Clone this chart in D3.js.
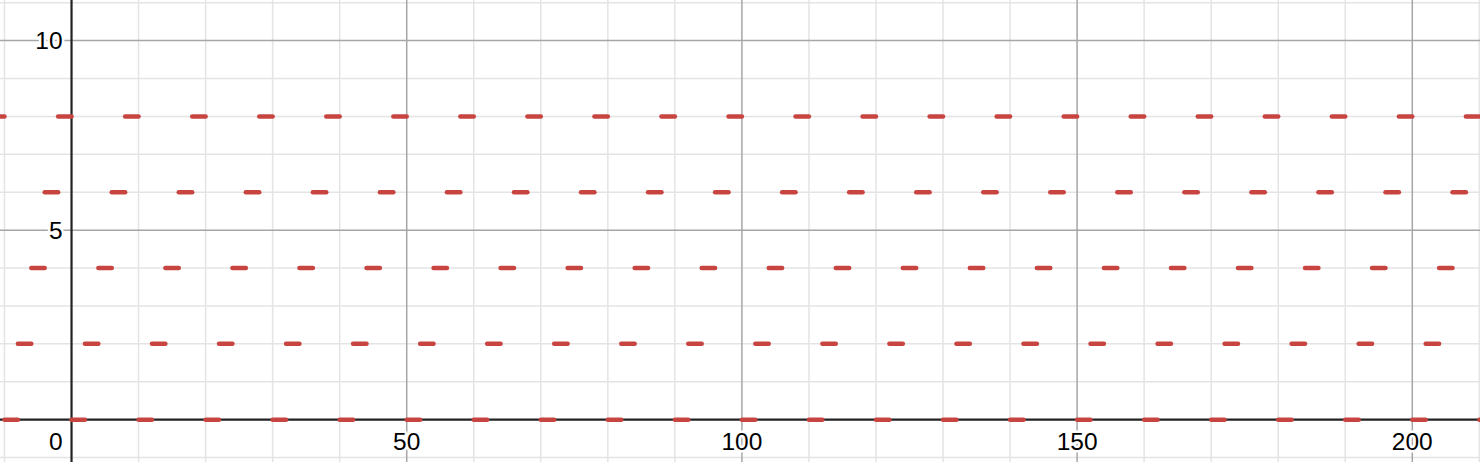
<!DOCTYPE html>
<html>
<head>
<meta charset="utf-8">
<script src="https://cdn.jsdelivr.net/npm/d3@7/dist/d3.min.js"></script>
<style>
html,body{margin:0;padding:0;background:#fff;}
svg{display:block;}
</style>
</head>
<body>
<svg id="chart" width="1480" height="462"></svg>
<script>
// ---- data ----
const xDomain = [-10.67, 210.1];
const yDomain = [-1.116, 11.07];

const xMajorTicks = [0, 50, 100, 150, 200];
const xMinorTicks = [-10, 10, 20, 30, 40, 60, 70, 80, 90, 110, 120, 130, 140, 160, 170, 180, 190, 210];
const yMajorTicks = [0, 5, 10];
const yMinorTicks = [-1, 1, 2, 3, 4, 6, 7, 8, 9, 11];

const xTickLabels = ["0", "50", "100", "150", "200"];
const yTickLabels = ["5", "10"];
const yLabelValues = [5, 10];

const rowLevels = [0, 2, 4, 6, 8];
const dashLength = 2;
const row0Starts = [-10, 0, 10, 20, 30, 40, 50, 60, 70, 80, 90, 100, 110, 120, 130, 140, 150, 160, 170, 180, 190, 200, 210];
const row2Starts = [-8, 2, 12, 22, 32, 42, 52, 62, 72, 82, 92, 102, 112, 122, 132, 142, 152, 162, 172, 182, 192, 202];
const row4Starts = [-6, 4, 14, 24, 34, 44, 54, 64, 74, 84, 94, 104, 114, 124, 134, 144, 154, 164, 174, 184, 194, 204];
const row6Starts = [-4, 6, 16, 26, 36, 46, 56, 66, 76, 86, 96, 106, 116, 126, 136, 146, 156, 166, 176, 186, 196, 206];
const row8Starts = [-12, -2, 8, 18, 28, 38, 48, 58, 68, 78, 88, 98, 108, 118, 128, 138, 148, 158, 168, 178, 188, 198, 208];
const rowStarts = [row0Starts, row2Starts, row4Starts, row6Starts, row8Starts];

// ---- drawing ----
const W = 1480, H = 462;
const svg = d3.select("#chart");
const x = d3.scaleLinear().domain(xDomain).range([0, W]);
const y = d3.scaleLinear().domain(yDomain).range([H, 0]);

const grid = svg.append("g");
grid.selectAll(".xmin").data(xMinorTicks).join("line")
  .attr("x1", d => x(d)).attr("x2", d => x(d)).attr("y1", 0).attr("y2", H)
  .attr("stroke", "#e4e4e4").attr("stroke-width", 1.5);
grid.selectAll(".ymin").data(yMinorTicks).join("line")
  .attr("y1", d => y(d)).attr("y2", d => y(d)).attr("x1", 0).attr("x2", W)
  .attr("stroke", "#e4e4e4").attr("stroke-width", 1.5);
grid.selectAll(".xmaj").data(xMajorTicks.filter(d => d !== 0)).join("line")
  .attr("x1", d => x(d)).attr("x2", d => x(d)).attr("y1", 0).attr("y2", H)
  .attr("stroke", "#a6a6a6").attr("stroke-width", 1.5);
grid.selectAll(".ymaj").data(yMajorTicks.filter(d => d !== 0)).join("line")
  .attr("y1", d => y(d)).attr("y2", d => y(d)).attr("x1", 0).attr("x2", W)
  .attr("stroke", "#a6a6a6").attr("stroke-width", 1.5);

// axes
svg.append("line").attr("x1", x(0)).attr("x2", x(0)).attr("y1", 0).attr("y2", H)
  .attr("stroke", "#222").attr("stroke-width", 2.2);
svg.append("line").attr("y1", y(0)).attr("y2", y(0)).attr("x1", 0).attr("x2", W)
  .attr("stroke", "#222").attr("stroke-width", 2.2);

// labels
const labels = svg.append("g")
  .attr("font-family", "'Liberation Sans', Arial, sans-serif")
  .attr("font-size", 24.5).attr("fill", "#000")
  .attr("stroke", "#fff").attr("stroke-width", 5).attr("stroke-linejoin", "round")
  .attr("paint-order", "stroke");
labels.selectAll(".xl").data(xMajorTicks).join("text")
  .attr("x", (d, i) => d === 0 ? x(0) - 9 : x(d))
  .attr("y", y(0) + 30)
  .attr("text-anchor", d => d === 0 ? "end" : "middle")
  .text((d, i) => xTickLabels[i]);
labels.selectAll(".yl").data(yLabelValues).join("text")
  .attr("x", x(0) - 9)
  .attr("y", d => y(d) + 8.5)
  .attr("text-anchor", "end")
  .text((d, i) => yTickLabels[i]);

// dashes
const dashes = svg.append("g");
rowLevels.forEach((lvl, i) => {
  dashes.selectAll(null).data(rowStarts[i]).join("line")
    .attr("x1", d => x(d)).attr("x2", d => x(d + dashLength))
    .attr("y1", y(lvl)).attr("y2", y(lvl))
    .attr("stroke", "#c74440").attr("stroke-width", 4.5).attr("stroke-linecap", "round");
});
</script>
</body>
</html>
